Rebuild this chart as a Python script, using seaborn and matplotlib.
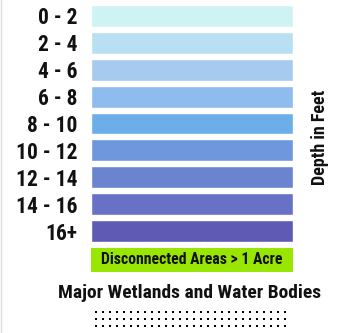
import matplotlib
matplotlib.use("Agg")
import matplotlib.pyplot as plt
from matplotlib import font_manager
import seaborn as sns
import numpy as np
import pandas as pd

# legend data
depth_ranges = ["0 - 2", "2 - 4", "4 - 6", "6 - 8", "8 - 10",
                "10 - 12", "12 - 14", "14 - 16", "16+"]
depth_colors = ["#CFF2F3", "#B9E0F2", "#A6CBEF", "#8EBCEE", "#6DAEE9",
                "#6E97DE", "#6A84D0", "#6772C6", "#5F5BB5"]
swatch_len = [1] * len(depth_ranges)
axis_title = "Depth in Feet"
green_label = "Disconnected Areas > 1 Acre"
green_color = "#99E600"
wetland_label = "Major Wetlands and Water Bodies"

sns.set_style("white")
names = {f.name for f in font_manager.fontManager.ttflist}
fams = [f for f in ("Roboto Condensed", "PT Sans Narrow") if f in names]
plt.rcParams['font.family'] = fams[:1] + ['DejaVu Sans']
plt.rcParams['font.weight'] = "bold"
txt_color = "#111111"

W, H = 339, 333
fig = plt.figure(figsize=(W / 100, H / 100), dpi=100)

def px_axes(x0, y0, x1, y1):
    return fig.add_axes([x0 / W, 1 - y1 / H, (x1 - x0) / W, (y1 - y0) / H])

# depth swatches
df = pd.DataFrame({"depth": depth_ranges, "len": swatch_len})
ax = px_axes(91, 2.5, 293, 244.5)
sns.barplot(data=df, x="len", y="depth", hue="depth", palette=depth_colors,
            legend=False, width=22 / 27, saturation=1, ax=ax, orient="h")
ax.set_xlim(0, 1)
ax.set_xlabel("")
ax.set_ylabel("")
ax.set_xticks([])
ax.tick_params(axis="y", length=0, pad=9.5, labelsize=15.5, labelcolor=txt_color)
for t in ax.get_yticklabels():
    t.set_fontweight("bold")
sns.despine(ax=ax, left=True, bottom=True)

fig.text(320 / W, 1 - 137 / H, axis_title, rotation=90, ha="center", va="center",
         fontsize=13, fontweight="bold", color=txt_color)

# disconnected areas swatch
gax = px_axes(91, 248, 293, 272)
gax.set_facecolor(green_color)
gax.set_xticks([])
gax.set_yticks([])
for s in gax.spines.values():
    s.set_visible(False)
gax.text(0.5, 0.5, green_label, ha="center", va="center", fontsize=11.3,
         fontweight="bold", color=txt_color, transform=gax.transAxes)

fig.text(190 / W, 1 - 293 / H, wetland_label, ha="center", va="center",
         fontsize=14, fontweight="bold", color=txt_color)

# dotted swatch for wetlands
dax = px_axes(91, 308, 295, 330)
dx, dy = np.meshgrid(np.arange(96, 292, 7), [312, 319, 326])
dax.scatter(dx.ravel(), dy.ravel(), marker="s", s=3.5, color="black", linewidths=0)
dax.set_xlim(91, 295)
dax.set_ylim(330, 308)
dax.axis("off")

fig.add_artist(plt.Line2D([0.5 / W, 0.5 / W], [0, 1], color="#DDDDDD", lw=1))

fig.savefig("out.png", dpi=100)
